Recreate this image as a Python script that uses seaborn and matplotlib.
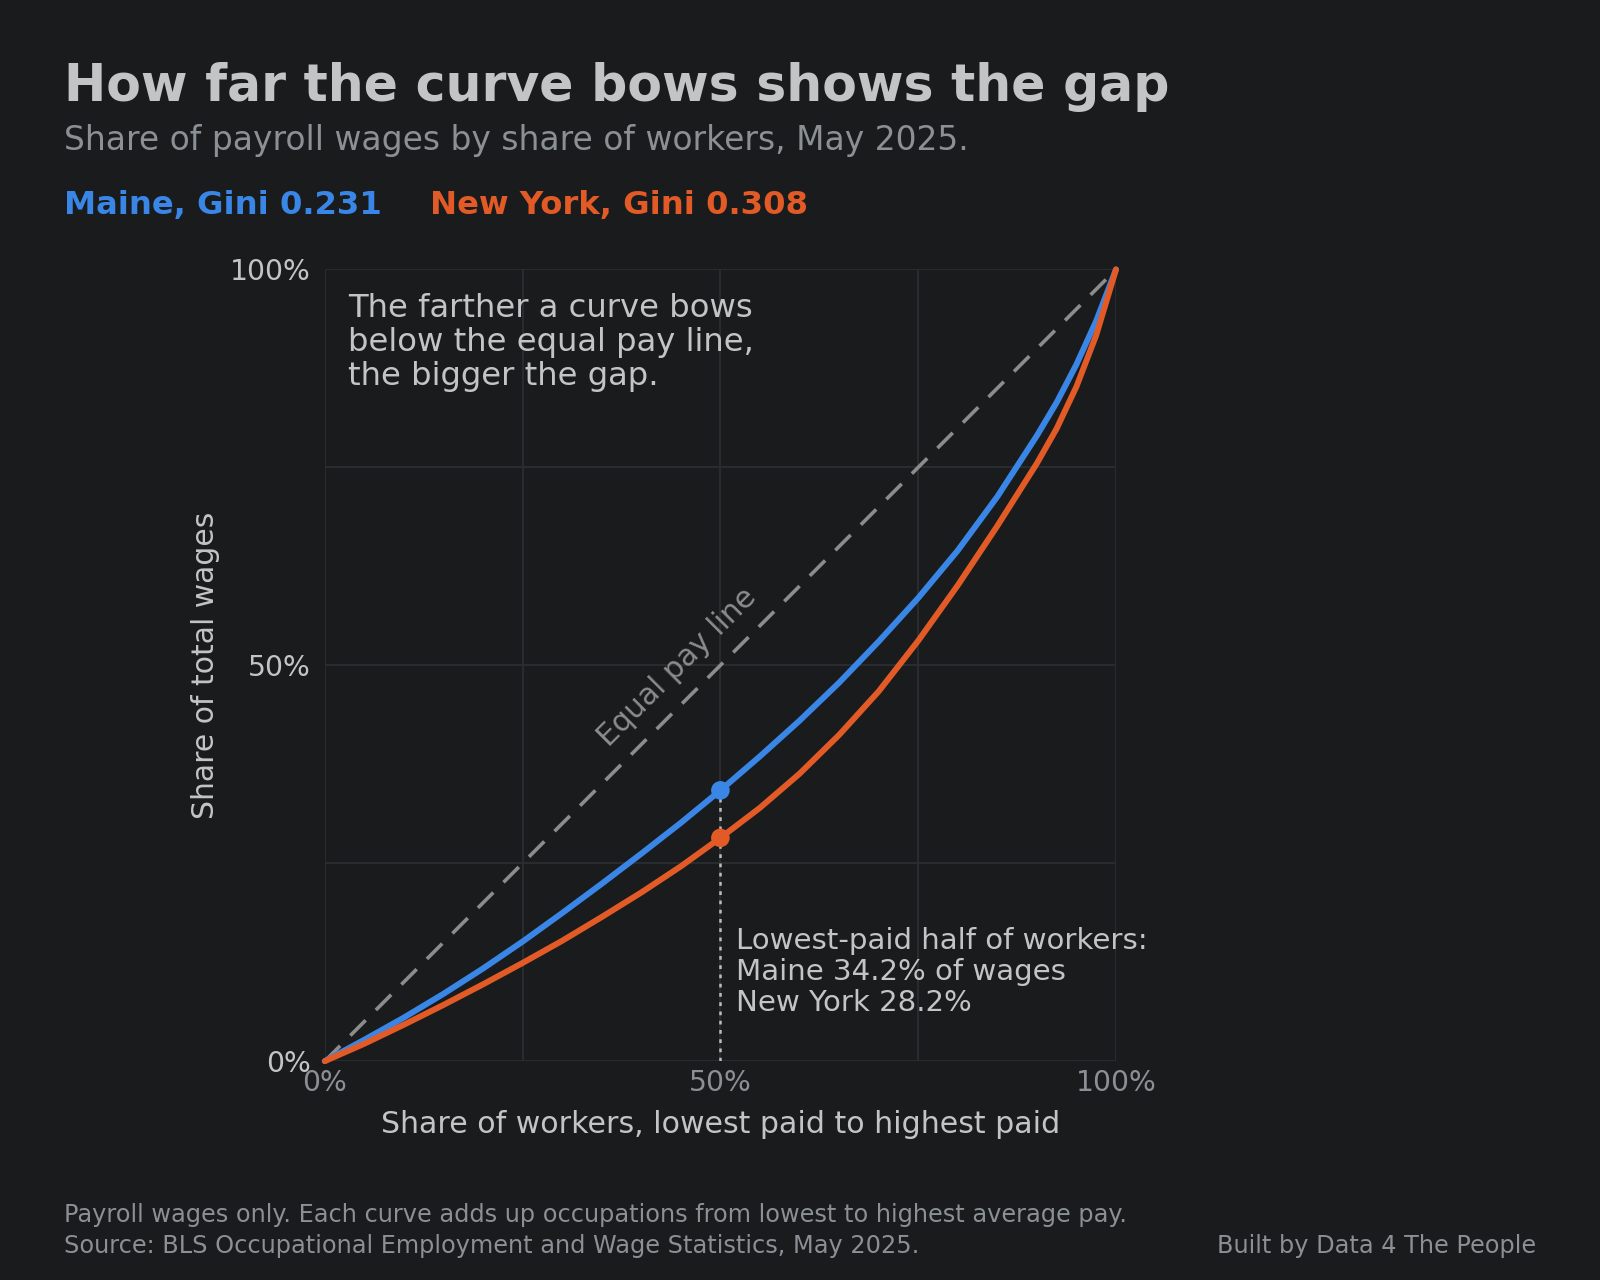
import numpy as np
import pandas as pd
import matplotlib
matplotlib.use("Agg")
import matplotlib.pyplot as plt
import seaborn as sns

# cumulative share of workers (x) and share of wages (y)
workers = [0.0, 0.05, 0.10, 0.15, 0.20, 0.25, 0.30, 0.35, 0.40, 0.45, 0.50,
           0.55, 0.60, 0.65, 0.70, 0.75, 0.80, 0.85, 0.90, 0.925, 0.95, 0.975, 1.0]
maine = [0.0, 0.027, 0.055, 0.085, 0.117, 0.151, 0.187, 0.224, 0.262, 0.301, 0.342,
         0.385, 0.430, 0.478, 0.530, 0.585, 0.645, 0.713, 0.790, 0.832, 0.880, 0.935, 1.0]
new_york = [0.0, 0.022, 0.046, 0.071, 0.097, 0.124, 0.152, 0.182, 0.213, 0.246, 0.282,
            0.320, 0.363, 0.412, 0.467, 0.531, 0.601, 0.676, 0.755, 0.799, 0.852, 0.917, 1.0]

states = ["Maine", "New York"]
gini = [0.231, 0.308]
half_share = [0.342, 0.282]

BG = "#191b1d"
BLUE = "#3a86e6"
ORANGE = "#e25a26"
LIGHT = "#c3c4c5"
GRAY = "#8b9094"
GRID = "#2a2e31"

sns.set_theme(style="dark", rc={
    "figure.facecolor": BG,
    "axes.facecolor": BG,
    "axes.edgecolor": BG,
    "text.color": LIGHT,
    "axes.labelcolor": LIGHT,
})
plt.rcParams["font.family"] = ["DejaVu Sans"]

df = pd.concat([
    pd.DataFrame({"x": workers, "y": maine, "state": "Maine"}),
    pd.DataFrame({"x": workers, "y": new_york, "state": "New York"}),
])

fig = plt.figure(figsize=(16, 12.8), dpi=100)
ax = fig.add_axes([0.203, 0.171, 0.4945, 0.6185])

ax.set_xticks([0, 0.25, 0.5, 0.75, 1.0])
ax.set_yticks([0, 0.25, 0.5, 0.75, 1.0])
ax.set_xticklabels(["0%", "", "50%", "", "100%"])
ax.set_yticklabels(["0%", "", "50%", "", "100%"])
ax.grid(True, color=GRID, lw=1.3)
ax.tick_params(axis="x", colors=GRAY, labelsize=20.3, length=0, pad=6)
ax.tick_params(axis="y", colors=LIGHT, labelsize=20.3, length=0, pad=10)
for s in ax.spines.values():
    s.set_visible(False)

# equal pay line
ax.plot([0, 1], [0, 1], color="#8c8c8c", lw=2.6, dashes=(6, 4), zorder=2)
ax.text(0.445, 0.498, "Equal pay line", rotation=45, color="#8c8c8c",
        fontsize=21.5, ha="center", va="center", rotation_mode="anchor")

sns.lineplot(data=df, x="x", y="y", hue="state", palette=[BLUE, ORANGE],
             lw=4.3, legend=False, ax=ax, zorder=4, clip_on=False)

# lowest-paid half marker
ax.plot([0.5, 0.5], [0, half_share[0]], color="#bdbdbd", lw=1.8,
        dashes=(1.5, 2.2), zorder=3)
ax.scatter([0.5, 0.5], half_share, s=180, color=[BLUE, ORANGE], zorder=5,
           linewidths=0)

ax.set_xlim(0, 1)
ax.set_ylim(0, 1)
ax.set_xlabel("Share of workers, lowest paid to highest paid", fontsize=21.6,
              labelpad=9, color=LIGHT)
ax.set_ylabel("Share of total wages", fontsize=21.5, labelpad=7, color=LIGHT)

ax.text(0.029, 0.97, "The farther a curve bows\nbelow the equal pay line,\nthe bigger the gap.",
        fontsize=23.2, va="top", ha="left", color=LIGHT, linespacing=1.12)
ax.text(0.52, 0.169,
        "Lowest-paid half of workers:\nMaine %.1f%% of wages\nNew York %.1f%%"
        % (half_share[0] * 100, half_share[1] * 100),
        fontsize=21.1, va="top", ha="left", color=LIGHT, linespacing=1.12)

# titles
fig.text(0.04, 0.921, "How far the curve bows shows the gap", fontsize=36.4,
         fontweight="bold", color=LIGHT, va="baseline")
fig.text(0.04, 0.883, "Share of payroll wages by share of workers, May 2025.",
         fontsize=23.7, color=GRAY, va="baseline")
fig.text(0.04, 0.833, "%s, Gini %.3f" % (states[0], gini[0]), fontsize=23.2,
         fontweight="bold", color=BLUE, va="baseline")
fig.text(0.269, 0.833, "%s, Gini %.3f" % (states[1], gini[1]), fontsize=23.2,
         fontweight="bold", color=ORANGE, va="baseline")

fig.text(0.04, 0.045,
         "Payroll wages only. Each curve adds up occupations from lowest to highest average pay.",
         fontsize=17.3, color=GRAY, va="baseline")
fig.text(0.04, 0.021, "Source: BLS Occupational Employment and Wage Statistics, May 2025.",
         fontsize=17.3, color=GRAY, va="baseline")
fig.text(0.96, 0.021, "Built by Data 4 The People", fontsize=17.3, color=GRAY,
         va="baseline", ha="right")

fig.savefig("out.png", dpi=100, facecolor=BG)
